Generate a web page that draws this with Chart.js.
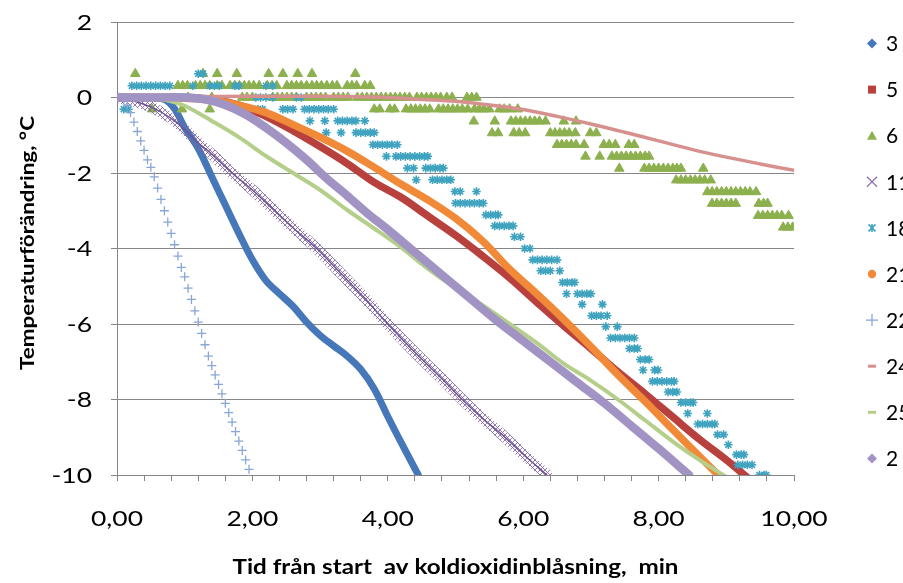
<!DOCTYPE html>
<html>
<head>
<meta charset="utf-8">
<script src="https://cdn.jsdelivr.net/npm/chart.js@4.4.0/dist/chart.umd.min.js"></script>
<style>
  html, body { margin: 0; padding: 0; background: #fff; }
  #wrap { width: 903px; height: 583px; }
</style>
</head>
<body>
<div id="wrap"><canvas id="tempChart" width="903" height="583"></canvas></div>
<script>
// Serienamn (legend, avklippt i kanten som i originalet)
const seriesLabels = ["3", "5", "6", "11", "18", "21", "22", "24", "25", "2"];

// Axlar
const xTickValues = [0, 2, 4, 6, 8, 10];
const xTickLabels = ["0,00", "2,00", "4,00", "6,00", "8,00", "10,00"];
const yTickLabels = [2, 0, -2, -4, -6, -8, -10];
const xTitle = "Tid från start  av koldioxidinblåsning,  min";
const yTitle = "Temperaturförändring, °C";

// Serie 3 (blå)
const s3X = [0.05, 0.4, 0.7, 0.85, 1.0, 1.2, 1.4, 1.6, 1.8, 2.0, 2.2, 2.4, 2.6, 2.8, 3.0, 3.2, 3.4, 3.6, 3.8, 4.0, 4.2, 4.45];
const s3Y = [0, 0, -0.05, -0.3, -0.8, -1.35, -2.1, -2.85, -3.6, -4.3, -4.85, -5.2, -5.53, -5.95, -6.3, -6.58, -6.85, -7.2, -7.72, -8.45, -9.15, -10];

// Serie 5 (röd)
const s5X = [0, 0.5, 1.0, 1.4, 1.8, 2.2, 2.6, 3.0, 3.4, 3.8, 4.2, 4.6, 5.0, 5.4, 5.8, 6.2, 6.6, 7.0, 7.4, 7.8, 8.2, 8.6, 9.0, 9.3];
const s5Y = [0, 0, 0, -0.05, -0.2, -0.5, -0.88, -1.3, -1.75, -2.25, -2.65, -3.15, -3.65, -4.2, -4.78, -5.42, -6.05, -6.65, -7.27, -7.85, -8.45, -9.05, -9.6, -10.05];

// Serie 6 (gröna trianglar) – avläsning per nivå
const s6Levels = [0.63, 0.31, 0, -0.31, -0.63, -0.94, -1.25, -1.56, -1.88, -2.19, -2.5, -2.81, -3.13, -3.44];
const s6X = [
  [0.27, 1.27, 1.48, 1.77, 2.24, 2.45, 2.67, 2.88, 3.52],
  [0.9, 0.97, 1.04, 1.16, 1.23, 1.3, 1.37, 1.48, 1.55, 1.67, 1.74, 1.81, 1.88, 1.95, 2.02, 2.1, 2.22, 2.29, 2.36, 2.51, 2.58, 2.65, 2.72, 2.8, 2.88, 2.95, 3.02, 3.1, 3.18, 3.25, 3.4, 3.47, 3.54, 3.66, 3.74],
  [1.05, 1.4, 1.85, 1.92, 2.0, 2.3, 2.37, 2.44, 2.51, 2.58, 2.65, 2.8, 2.87, 2.94, 3.01, 3.08, 3.2, 3.27, 3.34, 3.41, 3.55, 3.62, 3.69, 3.76, 3.83, 3.9, 3.97, 4.04, 4.11, 4.18, 4.25, 4.32, 4.43, 4.5, 4.57, 4.64, 4.71, 4.78, 4.87, 4.95, 5.17, 5.24, 5.31],
  [0.52, 0.96, 1.37, 3.8, 3.88, 4.03, 4.1, 4.27, 4.34, 4.41, 4.48, 4.55, 4.62, 4.75, 4.82, 4.89, 4.96, 5.03, 5.1, 5.18, 5.28, 5.35, 5.42, 5.5, 5.65, 5.72, 5.8, 5.92],
  [5.27, 5.58, 5.82, 5.89, 5.96, 6.03, 6.1, 6.17, 6.24, 6.33, 6.6, 6.78],
  [5.54, 5.63, 5.86, 5.94, 6.03, 6.4, 6.47, 6.54, 6.61, 6.68, 6.77, 6.99, 7.08],
  [6.5, 6.57, 6.64, 6.71, 6.78, 6.9, 7.19, 7.27, 7.36, 7.56, 7.64],
  [6.92, 7.13, 7.31, 7.38, 7.45, 7.52, 7.59, 7.66, 7.73, 7.8, 7.86],
  [7.42, 7.79, 7.86, 7.93, 8.0, 8.07, 8.14, 8.21, 8.27, 8.33, 8.66],
  [8.26, 8.33, 8.4, 8.47, 8.54, 8.61, 8.68, 8.77],
  [8.72, 8.79, 8.86, 8.93, 9.0, 9.07, 9.14, 9.21, 9.28, 9.35, 9.44],
  [8.79, 8.86, 8.93, 9.0, 9.07, 9.14, 9.48, 9.55, 9.61],
  [9.47, 9.54, 9.61, 9.68, 9.75, 9.82, 9.92],
  [9.84, 9.91, 9.98]
];

// Serie 11 (lila kryss)
const s11X = [0, 0.2, 0.5, 0.8, 1.0, 1.2, 1.4, 1.7, 2.0, 2.3, 2.6, 2.95, 3.3, 3.65, 4.0, 4.4, 4.8, 5.1, 5.4, 5.7, 6.0, 6.35];
const s11Y = [0, -0.07, -0.25, -0.55, -0.85, -1.2, -1.5, -2.0, -2.45, -2.95, -3.45, -4.0, -4.65, -5.3, -6.0, -6.75, -7.45, -8.0, -8.5, -8.95, -9.45, -10];

// Serie 18 (turkosa stjärnor) – avläsning per nivå
const s18Levels = [0.63, 0.31, 0, -0.31, -0.62, -0.93, -1.25, -1.56, -1.87, -2.18, -2.49, -2.8, -3.11, -3.4, -3.69, -4.0, -4.3, -4.59, -4.9, -5.2, -5.48, -5.78, -6.07, -6.37, -6.65, -6.94, -7.22, -7.52, -7.8, -8.08, -8.37, -8.65, -8.93, -9.2, -9.46, -9.73, -10.0];
const s18X = [
  [1.2, 1.27],
  [0.22, 0.29, 0.36, 0.43, 0.5, 0.57, 0.64, 0.71, 0.78, 1.12, 1.37, 1.44, 1.51, 1.74, 1.8, 2.2, 2.3],
  [0.05, 0.12, 2.05, 2.12, 2.2, 2.3, 2.65, 2.72],
  [0.1, 0.17, 2.08, 2.15, 2.45, 2.52, 2.6, 2.77, 2.84, 2.91, 2.98, 3.05, 3.12, 3.2],
  [2.85, 3.07, 3.26, 3.33, 3.4, 3.47, 3.53, 3.66],
  [3.09, 3.31, 3.53, 3.6, 3.67, 3.74, 3.8],
  [3.78, 3.85, 3.92, 3.99, 4.06, 4.14],
  [3.98, 4.12, 4.19, 4.26, 4.33, 4.4, 4.47, 4.54, 4.59],
  [4.29, 4.38, 4.56, 4.63, 4.7, 4.77, 4.82],
  [4.42, 4.66, 4.73, 4.8, 4.87, 4.93],
  [4.99, 5.07, 5.31],
  [5.0, 5.07, 5.14, 5.21, 5.28, 5.35, 5.41],
  [5.45, 5.52, 5.59, 5.63],
  [5.58, 5.65, 5.72, 5.79, 5.85],
  [5.87, 5.96],
  [6.02, 6.1],
  [6.14, 6.21, 6.28, 6.35, 6.42, 6.5],
  [6.26, 6.33, 6.4, 6.54],
  [6.58, 6.65, 6.72, 6.76],
  [6.64, 6.8, 6.87, 6.94, 7.0],
  [6.87, 7.17],
  [7.01, 7.08, 7.15, 7.24],
  [7.22, 7.39],
  [7.29, 7.36, 7.43, 7.5, 7.57, 7.64],
  [7.57, 7.64, 7.69],
  [7.73, 7.8, 7.86],
  [7.77, 7.94, 7.99],
  [7.91, 7.98, 8.05, 8.12, 8.19, 8.23],
  [8.14, 8.21, 8.27],
  [8.33, 8.4, 8.47, 8.51],
  [8.43, 8.72],
  [8.58, 8.65, 8.72, 8.79, 8.83],
  [8.87, 8.96],
  [9.03],
  [9.15, 9.22, 9.26],
  [9.17, 9.24, 9.31, 9.38],
  [9.49, 9.56, 9.59]
];

// Serie 21 (orange)
const s21X = [0, 0.6, 1.0, 1.4, 1.8, 2.2, 2.6, 3.0, 3.4, 3.8, 4.2, 4.6, 5.0, 5.4, 5.8, 6.2, 6.6, 7.0, 7.4, 7.8, 8.2, 8.6, 8.95];
const s21Y = [0, 0, -0.02, -0.07, -0.2, -0.4, -0.72, -1.05, -1.42, -1.85, -2.3, -2.72, -3.2, -3.8, -4.55, -5.2, -5.88, -6.6, -7.35, -8.05, -8.78, -9.5, -10.12];

// Serie 22 (ljusblå plus)
const s22X = [0, 0.05, 0.1, 0.15, 0.2, 0.25, 0.3, 0.35, 0.4, 0.45, 0.5, 0.55, 0.6, 0.65, 0.7, 0.75, 0.8, 0.85, 0.9, 0.95, 1.0, 1.05, 1.1, 1.15, 1.2, 1.25, 1.3, 1.35, 1.4, 1.45, 1.5, 1.55, 1.6, 1.65, 1.7, 1.75, 1.8, 1.85, 1.9, 1.95];
const s22Y = [0, 0, -0.05, -0.2, -0.4, -0.65, -0.9, -1.15, -1.4, -1.65, -1.85, -2.1, -2.4, -2.7, -3.0, -3.3, -3.6, -3.9, -4.2, -4.5, -4.75, -5.05, -5.35, -5.65, -5.95, -6.25, -6.55, -6.85, -7.1, -7.35, -7.6, -7.85, -8.1, -8.35, -8.6, -8.85, -9.1, -9.35, -9.6, -9.85];

// Serie 24 (rosa)
const s24X = [0, 1, 2, 3, 4, 4.5, 5, 5.5, 6, 6.5, 7, 7.5, 8, 8.5, 9, 9.5, 10];
const s24Y = [0, 0.02, 0.03, 0.03, 0, -0.05, -0.1, -0.2, -0.32, -0.5, -0.7, -0.92, -1.15, -1.38, -1.58, -1.76, -1.93];

// Serie 25 (ljusgrön)
const s25X = [0, 0.5, 0.8, 1.0, 1.4, 1.8, 2.2, 2.6, 3.0, 3.4, 3.8, 4.2, 4.6, 5.0, 5.4, 5.8, 6.2, 6.6, 7.0, 7.4, 7.8, 8.2, 8.6, 9.0];
const s25Y = [0, 0, -0.1, -0.22, -0.62, -1.05, -1.55, -2.0, -2.45, -2.98, -3.47, -3.98, -4.55, -5.05, -5.5, -6.0, -6.5, -7.05, -7.5, -8.0, -8.55, -9.1, -9.6, -10.05];

// Serie 2x (lavendel)
const s2X = [0, 0.5, 1.0, 1.3, 1.6, 1.9, 2.2, 2.5, 2.8, 3.1, 3.4, 3.7, 4.0, 4.4, 4.8, 5.2, 5.6, 6.0, 6.4, 6.8, 7.2, 7.6, 8.0, 8.45];
const s2Y = [0, 0, 0, -0.05, -0.2, -0.45, -0.8, -1.2, -1.65, -2.15, -2.6, -3.07, -3.5, -4.1, -4.7, -5.3, -5.9, -6.45, -7.0, -7.55, -8.1, -8.7, -9.3, -10];

// Hjälpfunktioner för att bygga punktlistor
const pts = (xs, ys) => xs.map((x, i) => ({ x: x, y: ys[i] }));
const rowPts = (levels, rows) => {
  const out = [];
  rows.forEach((row, i) => row.forEach((x) => out.push({ x: x, y: levels[i] })));
  return out;
};

// Streckmönster för serie 11
const hatch = document.createElement("canvas");
hatch.width = 5;
hatch.height = 5;
const hctx = hatch.getContext("2d");
hctx.strokeStyle = "rgba(128,100,165,0.85)";
hctx.lineWidth = 1;
hctx.beginPath();
hctx.moveTo(0, 0); hctx.lineTo(5, 5);
hctx.moveTo(5, 0); hctx.lineTo(0, 5);
hctx.stroke();
const ctx = document.getElementById("tempChart").getContext("2d");
const hatchPattern = ctx.createPattern(hatch, "repeat");

const lineDs = (label, data, color, width, order) => ({
  label, data, showLine: true, borderColor: color, backgroundColor: color,
  borderWidth: width, pointRadius: 0, tension: 0.35, borderCapStyle: "round",
  borderJoinStyle: "round", fill: false, order
});
const markDs = (label, data, color, style, r, bw, order) => ({
  label, data, showLine: false, borderColor: color, backgroundColor: color,
  pointStyle: style, pointRadius: r, pointBorderWidth: bw, order
});

const datasets = [
  lineDs(seriesLabels[0], pts(s3X, s3Y), "#4677B8", 7, 12),
  lineDs(seriesLabels[1], pts(s5X, s5Y), "#B8413E", 7.5, 11),
  markDs(seriesLabels[2], rowPts(s6Levels, s6X), "#8DB04F", "triangle", 5.5, 1, 10),
  lineDs("", pts(s11X, s11Y), hatchPattern, 11, 9),
  lineDs(seriesLabels[3], pts(s11X, s11Y), "#6E5496", 1.5, 8),
  markDs(seriesLabels[4], rowPts(s18Levels, s18X), "#3FA3BF", "star", 4.3, 1.6, 7),
  lineDs(seriesLabels[5], pts(s21X, s21Y), "#F08A38", 7.5, 6),
  markDs(seriesLabels[6], pts(s22X, s22Y), "#88A6D6", "cross", 4.5, 1.3, 5),
  lineDs(seriesLabels[7], pts(s24X, s24Y), "#D6918F", 3.5, 4),
  lineDs(seriesLabels[8], pts(s25X, s25Y), "#B5CF8B", 4, 3),
  lineDs(seriesLabels[9], pts(s2X, s2Y), "#A194C4", 8.5, 2)
];

// Legendmarkörer
const legendMarks = [
  { style: "diamond", color: "#4677B8" },
  { style: "rect", color: "#B8413E" },
  { style: "triangle", color: "#8DB04F" },
  { style: "crossRot", color: "#8C73AF" },
  { style: "star", color: "#3FA3BF" },
  { style: "circle", color: "#F08A38" },
  { style: "cross", color: "#88A6D6" },
  { style: "dash", color: "#D6918F" },
  { style: "dash", color: "#B5CF8B" },
  { style: "diamond", color: "#A194C4" }
];

// Texten i originalet är bredare än den är hög, så den ritas utdragen i sidled
function wideText(c, text, x, y, align, font, stretch) {
  c.save();
  c.font = font;
  c.textAlign = align;
  c.textBaseline = "middle";
  c.translate(x, y);
  c.scale(stretch, 1);
  c.fillText(text, 0, 0);
  c.restore();
}

const textLayer = {
  id: "textLayer",
  afterDraw(chart) {
    const c = chart.ctx;
    const xs = chart.scales.x, ys = chart.scales.y;
    c.save();
    c.fillStyle = "#000";
    // y-ticks
    yTickLabels.forEach((v) => wideText(c, String(v), 92, ys.getPixelForValue(v) + 1, "right", "21px Lato", 1.26));
    // x-ticks
    xTickValues.forEach((v, i) => wideText(c, xTickLabels[i], xs.getPixelForValue(v), 519, "center", "21px Lato", 1.26));
    // axeltitlar
    wideText(c, xTitle, (xs.left + xs.right) / 2, 568, "center", "bold 20px Lato", 1.21);
    c.save();
    c.translate(28, 243);
    c.rotate(-Math.PI / 2);
    wideText(c, yTitle, 0, 0, "center", "bold 19px Lato", 1.18);
    c.restore();
    // legend
    legendMarks.forEach((m, i) => {
      const x = 872, y = 43.5 + i * 46.1;
      c.fillStyle = m.color;
      c.strokeStyle = m.color;
      c.lineWidth = 1.3;
      c.beginPath();
      if (m.style === "diamond") {
        c.moveTo(x, y - 5); c.lineTo(x + 5, y); c.lineTo(x, y + 5); c.lineTo(x - 5, y); c.closePath(); c.fill();
      } else if (m.style === "rect") {
        c.fillRect(x - 4, y - 4, 8, 8);
      } else if (m.style === "triangle") {
        c.moveTo(x, y - 5); c.lineTo(x + 5, y + 4); c.lineTo(x - 5, y + 4); c.closePath(); c.fill();
      } else if (m.style === "crossRot") {
        c.moveTo(x - 5, y - 5); c.lineTo(x + 5, y + 5); c.moveTo(x + 5, y - 5); c.lineTo(x - 5, y + 5); c.stroke();
      } else if (m.style === "star") {
        c.lineWidth = 1.6;
        c.moveTo(x - 3.5, y - 3.5); c.lineTo(x + 3.5, y + 3.5); c.moveTo(x + 3.5, y - 3.5); c.lineTo(x - 3.5, y + 3.5);
        c.moveTo(x, y - 4); c.lineTo(x, y + 4); c.stroke();
      } else if (m.style === "circle") {
        c.arc(x, y, 4.2, 0, Math.PI * 2); c.fill();
      } else if (m.style === "cross") {
        c.moveTo(x - 6, y); c.lineTo(x + 6, y); c.moveTo(x, y - 6); c.lineTo(x, y + 6); c.stroke();
      } else if (m.style === "dash") {
        c.fillRect(x - 4, y - 1.5, 8, 3);
      }
      c.fillStyle = "#000";
      wideText(c, seriesLabels[i], 886, y + 1, "left", "21px Lato", 1);
    });
    c.restore();
  }
};

new Chart(ctx, {
  type: "scatter",
  data: { datasets },
  plugins: [textLayer],
  options: {
    responsive: false,
    animation: false,
    devicePixelRatio: 1,
    layout: { padding: { top: 22, right: 109, left: 0, bottom: 0 } },
    plugins: { legend: { display: false }, tooltip: { enabled: false } },
    scales: {
      x: {
        type: "linear",
        min: 0,
        max: 10,
        afterFit: (s) => { s.height = 108; },
        ticks: { stepSize: 0.4, autoSkip: false, maxRotation: 0, display: false },
        grid: { drawOnChartArea: false, drawTicks: true, tickLength: 6, color: "#868686" },
        border: { color: "#868686" },
        title: { display: false }
      },
      y: {
        min: -10,
        max: 2,
        afterFit: (s) => { s.width = 117; },
        afterBuildTicks: (s) => { s.ticks = yTickLabels.map((v) => ({ value: v })); },
        ticks: { display: false },
        grid: { color: "#868686", tickLength: 6 },
        border: { color: "#868686" },
        title: { display: false }
      }
    }
  }
});
</script>
</body>
</html>
